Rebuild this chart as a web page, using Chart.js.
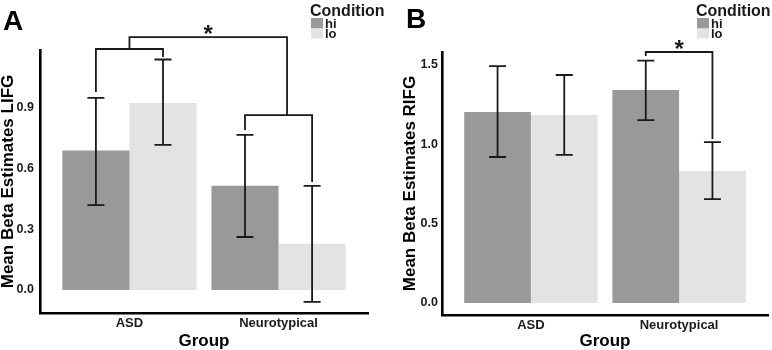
<!DOCTYPE html>
<html>
<head>
<meta charset="utf-8">
<script src="https://cdn.jsdelivr.net/npm/chart.js@4.4.1/dist/chart.umd.min.js"></script>
<style>
  body { margin: 0; background: #fff; }
  #wrap { display: flex; width: 772px; height: 350px; }
  canvas { display: block; }
</style>
</head>
<body>
<div id="wrap">
  <canvas id="panelA" width="386" height="350"></canvas>
  <canvas id="panelB" width="386" height="350"></canvas>
</div>
<script>
// categories
const groups = ["ASD", "Neurotypical"];
const conditions = ["hi", "lo"];

// panel A - LIFG means and error bar ends
const hiA = [0.69, 0.515];
const loA = [0.925, 0.228];
const hiLowA = [0.42, 0.262];
const hiHighA = [0.95, 0.767];
const loLowA = [0.718, -0.059];
const loHighA = [1.14, 0.515];
const yTicksA = [0, 0.3, 0.6, 0.9];
const yTickLabelsA = ["0.0", "0.3", "0.6", "0.9"];

// panel B - RIFG
const hiB = [1.204, 1.342];
const loB = [1.185, 0.832];
const hiLowB = [0.92, 1.153];
const hiHighB = [1.493, 1.527];
const loLowB = [0.933, 0.655];
const loHighB = [1.437, 1.014];
const yTicksB = [0, 0.5, 1, 1.5];
const yTickLabelsB = ["0.0", "0.5", "1.0", "1.5"];

// significance brackets: x in group units (1 = ASD, 2 = Neurotypical), y in beta units
const bracketsA = [
  { x1: 0.775, x2: 1.225, y: 1.192, end1: 0.979, end2: 1.152 },
  { x1: 1.775, x2: 2.225, y: 0.865, end1: 0.791, end2: 0.534 },
  { x1: 1.0, x2: 2.057, y: 1.251, end1: 1.192, end2: 0.865, star: "*" },
];
const bracketsB = [
  { x1: 1.775, x2: 2.225, y: 1.582, end1: 1.556, end2: 1.033, star: "*" },
];

const FONT = "'Liberation Sans', Arial, sans-serif";
const hiColor = "#999999";
const loColor = "#e3e3e3";
const ink = "#1a1a1a";

Chart.defaults.font.family = FONT;

function extras(p) {
  return {
    id: "extras",
    afterDatasetsDraw(chart) {
      const ctx = chart.ctx;
      const xs = chart.scales.x;
      const ys = chart.scales.y;
      ctx.save();
      ctx.strokeStyle = ink;
      ctx.lineWidth = 1.8;
      ctx.lineJoin = "miter";
      // error bars
      [p.hiErr, p.loErr].forEach((err, d) => {
        chart.getDatasetMeta(d).data.forEach((bar, i) => {
          const top = ys.getPixelForValue(err[1][i]);
          const bot = ys.getPixelForValue(err[0][i]);
          ctx.beginPath();
          ctx.moveTo(bar.x, top);
          ctx.lineTo(bar.x, bot);
          ctx.moveTo(bar.x - 8.5, top);
          ctx.lineTo(bar.x + 8.5, top);
          ctx.moveTo(bar.x - 8.5, bot);
          ctx.lineTo(bar.x + 8.5, bot);
          ctx.stroke();
        });
      });
      // brackets
      p.brackets.forEach((b) => {
        const x1 = xs.getPixelForValue(b.x1);
        const x2 = xs.getPixelForValue(b.x2);
        const y = ys.getPixelForValue(b.y);
        ctx.beginPath();
        ctx.moveTo(x1, ys.getPixelForValue(b.end1));
        ctx.lineTo(x1, y);
        ctx.lineTo(x2, y);
        ctx.lineTo(x2, ys.getPixelForValue(b.end2));
        ctx.stroke();
        if (b.star) {
          ctx.fillStyle = ink;
          ctx.font = "bold 24px " + FONT;
          ctx.textAlign = "center";
          ctx.textBaseline = "alphabetic";
          ctx.fillText(b.star, (x1 + x2) / 2, y + 5);
        }
      });
      ctx.restore();
    },
    afterDraw(chart) {
      const ctx = chart.ctx;
      ctx.save();
      ctx.fillStyle = "#000";
      ctx.textAlign = "left";
      ctx.textBaseline = "alphabetic";
      ctx.font = "bold 28px " + FONT;
      ctx.fillText(p.letter, p.letterX, p.letterY);
      // legend
      ctx.fillStyle = ink;
      ctx.font = "bold 16px " + FONT;
      ctx.fillText("Condition", 310, 16);
      ctx.fillStyle = hiColor;
      ctx.fillRect(311, 18, 12, 10.5);
      ctx.fillStyle = loColor;
      ctx.fillRect(311, 28.5, 12, 10);
      ctx.fillStyle = ink;
      ctx.font = "bold 13px " + FONT;
      ctx.fillText(conditions[0], 325, 27.5);
      ctx.fillText(conditions[1], 325, 37.5);
      ctx.restore();
    },
  };
}

function makePanel(id, p) {
  new Chart(document.getElementById(id), {
    type: "bar",
    data: {
      datasets: [
        {
          label: conditions[0],
          data: groups.map((g, i) => ({ x: i + 1, y: p.hi[i] })),
          backgroundColor: hiColor,
          borderWidth: 0,
          categoryPercentage: 0.9,
          barPercentage: 1.0,
        },
        {
          label: conditions[1],
          data: groups.map((g, i) => ({ x: i + 1, y: p.lo[i] })),
          backgroundColor: loColor,
          borderWidth: 0,
          categoryPercentage: 0.9,
          barPercentage: 1.0,
        },
      ],
    },
    options: {
      responsive: false,
      animation: false,
      events: [],
      layout: { padding: { left: 0, top: p.area.top, right: 386 - p.area.right, bottom: 0 } },
      plugins: { legend: { display: false }, tooltip: { enabled: false } },
      scales: {
        x: {
          type: "linear",
          min: 0.4,
          max: 2.6,
          offset: false,
          grid: { display: false, drawTicks: false },
          border: { display: true, color: "#000", width: 2.6 },
          afterBuildTicks: (s) => { s.ticks = groups.map((g, i) => ({ value: i + 1 })); },
          ticks: {
            callback: (v, i) => groups[i],
            font: { size: 13, weight: "bold" },
            color: ink,
            padding: 3,
            maxRotation: 0,
            autoSkip: false,
          },
          title: {
            display: true,
            text: "Group",
            color: "#000",
            font: { size: 17, weight: "bold", lineHeight: 1 },
            padding: { top: 2, bottom: 0 },
          },
          afterFit: (s) => { s.height = 350 - p.area.bottom; },
        },
        y: {
          min: p.yMin,
          max: p.yMax,
          grid: { display: false, drawTicks: false },
          border: { display: true, color: "#000", width: 2.6 },
          afterBuildTicks: (s) => { s.ticks = p.ticks.map((v) => ({ value: v })); },
          ticks: {
            callback: (v, i) => p.tickLabels[i],
            font: { size: 12.5, weight: "bold" },
            color: ink,
            padding: p.tickPad,
          },
          title: {
            display: true,
            text: p.title,
            color: "#000",
            font: { size: 17, weight: "bold", lineHeight: 1 },
            padding: { top: p.titlePad, bottom: 0 },
          },
          afterFit: (s) => { s.width = p.area.left; },
        },
      },
    },
    plugins: [extras(p)],
  });
}

makePanel("panelA", {
  hi: hiA, lo: loA,
  hiErr: [hiLowA, hiHighA], loErr: [loLowA, loHighA],
  yMin: -0.114, yMax: 1.187,
  ticks: yTicksA, tickLabels: yTickLabelsA, tickPad: 6,
  title: "Mean Beta Estimates LIFG", titlePad: 0,
  brackets: bracketsA,
  letter: "A", letterX: 3, letterY: 30,
  area: { left: 40, top: 50, right: 368, bottom: 313 },
});

makePanel("panelB", {
  hi: hiB, lo: loB,
  hiErr: [hiLowB, hiHighB], loErr: [loLowB, loHighB],
  yMin: -0.076, yMax: 1.582,
  ticks: yTicksB, tickLabels: yTickLabelsB, tickPad: 4,
  title: "Mean Beta Estimates RIFG", titlePad: 16,
  brackets: bracketsB,
  letter: "B", letterX: 20, letterY: 28,
  area: { left: 56, top: 52, right: 382, bottom: 315 },
});
</script>
</body>
</html>
